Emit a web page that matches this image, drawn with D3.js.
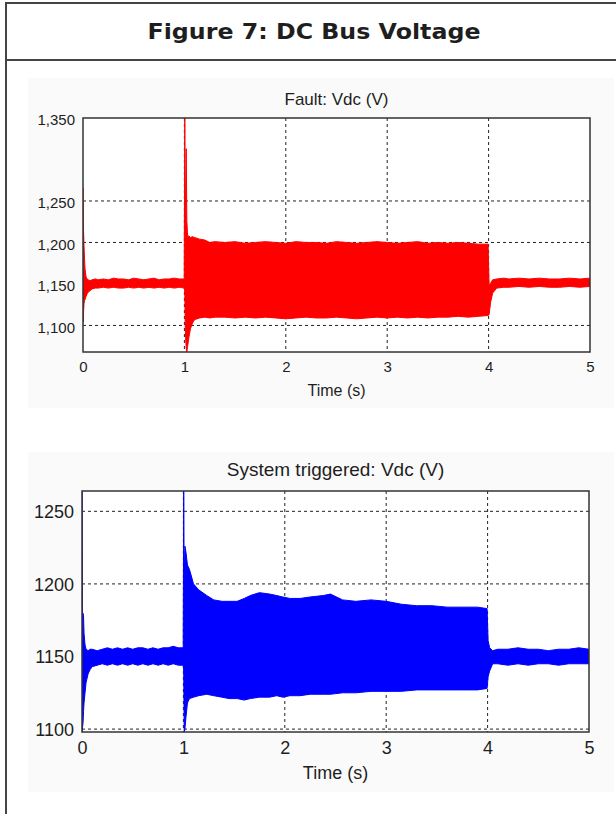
<!DOCTYPE html>
<html>
<head>
<meta charset="utf-8">
<title>Figure 7: DC Bus Voltage</title>
<script src="https://d3js.org/d3.v7.min.js"></script>
<style>
  body { margin: 0; background: #fff; }
  svg text { font-family: "Liberation Sans", Arial, sans-serif; fill: #1e1e1e; }
  .fig-title { font-family: "DejaVu Sans", Verdana, sans-serif !important; font-weight: bold; }
</style>
</head>
<body>
<div id="chart"></div>
<script>
// ---- data (envelope of the Vdc waveform) ----
const xTicks = [0, 1, 2, 3, 4, 5];

const faultTicks = [1100, 1150, 1200, 1250, 1350];
const faultTime = [0, 0.003, 0.006, 0.01, 0.015, 0.02, 0.03, 0.04, 0.05, 0.07, 0.09, 0.12, 0.15, 0.2, 0.25, 0.3, 0.35, 0.4, 0.45, 0.5, 0.55, 0.6, 0.65, 0.7, 0.75, 0.8, 0.85, 0.9, 0.95, 0.998,
  1.004, 1.008, 1.012, 1.018, 1.024, 1.032, 1.045, 1.06, 1.08, 1.1, 1.15, 1.2, 1.25, 1.3,
  1.4, 1.5, 1.6, 1.7, 1.8, 1.9, 2.0, 2.1, 2.2, 2.3, 2.4, 2.5, 2.6, 2.7, 2.8, 2.9, 3.0, 3.1, 3.2, 3.3, 3.4, 3.5, 3.6, 3.7, 3.8, 3.9, 3.995,
  4.005, 4.02, 4.04, 4.08, 4.15, 4.2, 4.3, 4.4, 4.5, 4.6, 4.7, 4.8, 4.9, 5];
const faultUpper = [1266, 1214, 1212, 1196, 1180, 1168, 1159, 1156, 1155, 1154, 1155, 1156, 1155, 1156, 1155, 1157, 1156, 1156, 1155, 1157, 1156, 1155, 1156, 1157, 1155, 1156, 1156, 1157, 1156, 1156,
  1350, 1236, 1250, 1313, 1226, 1207, 1208, 1206, 1207, 1206, 1204, 1203, 1200, 1201,
  1200, 1201, 1199, 1200, 1201, 1200, 1199, 1201, 1200, 1200, 1199, 1201, 1200, 1199, 1200, 1201, 1200, 1199, 1200, 1201, 1199, 1200, 1199, 1200, 1199, 1198, 1198,
  1148, 1151, 1155, 1156, 1157, 1156, 1157, 1156, 1157, 1156, 1156, 1157, 1156, 1157];
const faultLower = [1105, 1104, 1118, 1126, 1130, 1131, 1135, 1138, 1140, 1142, 1144, 1145, 1145, 1146, 1145, 1146, 1145, 1145, 1146, 1145, 1146, 1145, 1146, 1145, 1146, 1145, 1146, 1145, 1146, 1145,
  1140, 1100, 1085, 1072, 1068, 1075, 1086, 1096, 1103, 1107, 1109, 1110, 1109, 1110,
  1110, 1109, 1110, 1109, 1110, 1109, 1108, 1109, 1110, 1109, 1109, 1110, 1109, 1108, 1109, 1110, 1109, 1110, 1109, 1110, 1109, 1110, 1110, 1111, 1110, 1111, 1112,
  1113, 1128, 1139, 1145, 1146, 1146, 1147, 1146, 1147, 1146, 1146, 1147, 1146, 1147];

const trigTicks = [1100, 1150, 1200, 1250];
const trigTime = [0, 0.003, 0.01, 0.015, 0.02, 0.03, 0.04, 0.06, 0.08, 0.1, 0.15, 0.2, 0.25, 0.3, 0.35, 0.4, 0.45, 0.5, 0.55, 0.6, 0.65, 0.7, 0.75, 0.8, 0.85, 0.9, 0.95, 0.998,
  1.003, 1.008, 1.015, 1.025, 1.04, 1.06, 1.1, 1.15, 1.23, 1.3, 1.38, 1.45, 1.53, 1.6, 1.66, 1.75, 1.85, 1.92, 1.98, 2.05, 2.15, 2.25, 2.38, 2.45, 2.57, 2.7, 2.85, 3.0, 3.15, 3.3, 3.45, 3.6, 3.75, 3.9, 3.995,
  4.005, 4.02, 4.05, 4.1, 4.2, 4.3, 4.4, 4.5, 4.6, 4.7, 4.8, 4.9, 5];
const trigUpper = [1264, 1180, 1180, 1178, 1166, 1158, 1155, 1154, 1155, 1155, 1154, 1155, 1156, 1155, 1156, 1155, 1156, 1155, 1156, 1156, 1155, 1156, 1155, 1156, 1156, 1157, 1156, 1156,
  1264, 1200, 1226, 1222, 1213, 1210, 1200, 1196, 1192, 1189, 1188, 1188, 1188, 1190, 1192, 1194, 1193, 1192, 1191, 1190, 1190, 1191, 1192, 1193, 1189, 1188, 1189, 1188, 1186, 1185, 1185, 1184, 1184, 1184, 1183,
  1161, 1156, 1154, 1155, 1155, 1156, 1155, 1155, 1154, 1155, 1155, 1156, 1155];
const trigLower = [1098, 1100, 1104, 1112, 1118, 1125, 1132, 1138, 1141, 1143, 1144, 1145, 1144, 1145, 1144, 1145, 1144, 1145, 1144, 1145, 1144, 1145, 1144, 1145, 1144, 1145, 1144, 1144,
  1140, 1098, 1100, 1108, 1118, 1121, 1122, 1123, 1124, 1123, 1122, 1121, 1121, 1120, 1121, 1122, 1122, 1123, 1122, 1123, 1123, 1124, 1124, 1124, 1125, 1125, 1126, 1126, 1126, 1127, 1127, 1127, 1127, 1127, 1128,
  1136, 1140, 1145, 1145, 1144, 1145, 1144, 1145, 1145, 1144, 1145, 1145, 1145];

// ---- page ----
const W = 616, H = 814;
const svg = d3.select("#chart").append("svg")
  .attr("width", W).attr("height", H);

svg.append("rect").attr("width", W).attr("height", H).attr("fill", "#fff");

// panel backgrounds (pasted screenshot look)
svg.append("rect").attr("x", 28).attr("y", 78).attr("width", 586).attr("height", 330).attr("fill", "#fafafa");
svg.append("rect").attr("x", 28).attr("y", 452).attr("width", 586).attr("height", 340).attr("fill", "#fafafa");

// frame of the figure box
svg.append("line").attr("x1", 5).attr("x2", W).attr("y1", 3).attr("y2", 3).attr("stroke", "#444").attr("stroke-width", 2);
svg.append("line").attr("x1", 6).attr("x2", 6).attr("y1", 2).attr("y2", H).attr("stroke", "#444").attr("stroke-width", 2);
svg.append("line").attr("x1", 5).attr("x2", W).attr("y1", 60).attr("y2", 60).attr("stroke", "#444").attr("stroke-width", 2);

svg.append("text").attr("class", "fig-title")
  .attr("x", 314).attr("y", 39)
  .attr("text-anchor", "middle")
  .attr("textLength", 333).attr("lengthAdjust", "spacingAndGlyphs")
  .style("font-size", "21px")
  .text("Figure 7: DC Bus Voltage");

function panel(o) {
  const x = d3.scaleLinear().domain([0, 5]).range([o.left, o.right]);
  const y = d3.scaleLinear().domain(o.yDomain).range([o.bottom, o.top]);
  const g = svg.append("g");

  g.append("rect").attr("x", o.left).attr("y", o.top)
    .attr("width", o.right - o.left).attr("height", o.bottom - o.top)
    .attr("fill", "#fff");

  // grid
  g.selectAll(".hgrid").data(o.yTicks.filter(v => v > o.yDomain[0] && v < o.yDomain[1]))
    .enter().append("line")
    .attr("x1", o.left).attr("x2", o.right)
    .attr("y1", d => y(d)).attr("y2", d => y(d))
    .attr("stroke", "#222").attr("stroke-width", 1).attr("stroke-dasharray", "3,3");
  g.selectAll(".vgrid").data(xTicks.filter(v => v > 0 && v < 5))
    .enter().append("line")
    .attr("x1", d => x(d)).attr("x2", d => x(d))
    .attr("y1", o.top).attr("y2", o.bottom)
    .attr("stroke", "#222").attr("stroke-width", 1).attr("stroke-dasharray", "3,3");

  // waveform envelope
  const pts = o.time.map((t, i) => ({ t: t, hi: o.upper[i], lo: o.lower[i] }));
  const clipId = "clip" + o.id;
  svg.append("clipPath").attr("id", clipId).append("rect")
    .attr("x", o.left).attr("y", o.top).attr("width", o.right - o.left).attr("height", o.bottom - o.top);
  const area = d3.area().x(d => x(d.t)).y0(d => y(d.lo)).y1(d => y(d.hi));
  g.append("path").datum(pts)
    .attr("clip-path", "url(#" + clipId + ")")
    .attr("d", area)
    .attr("fill", o.color).attr("stroke", o.color).attr("stroke-width", 1);

  // frame
  g.append("rect").attr("x", o.left).attr("y", o.top)
    .attr("width", o.right - o.left).attr("height", o.bottom - o.top)
    .attr("fill", "none").attr("stroke", "#333").attr("stroke-width", 1.5);

  // axes
  const ya = g.append("g").attr("transform", "translate(" + o.left + ",0)")
    .call(d3.axisLeft(y).tickValues(o.yTicks).tickFormat(o.fmt).tickSize(0).tickPadding(8));
  ya.select(".domain").remove();
  ya.selectAll("text").style("font-size", o.tickSize + "px").attr("fill", "#1e1e1e").attr("dy", o.yDy);

  const xa = g.append("g").attr("transform", "translate(0," + o.bottom + ")")
    .call(d3.axisBottom(x).tickValues(xTicks).tickFormat(d3.format("d")).tickSize(0).tickPadding(o.xPad));
  xa.select(".domain").remove();
  xa.selectAll("text").style("font-size", o.tickSize + "px").attr("fill", "#1e1e1e");

  g.append("text").attr("x", (o.left + o.right) / 2).attr("y", o.titleY)
    .attr("text-anchor", "middle").style("font-size", o.titleSize + "px")
    .text(o.title);
  g.append("text").attr("x", (o.left + o.right) / 2).attr("y", o.xLabelY)
    .attr("text-anchor", "middle").style("font-size", o.labelSize + "px")
    .text("Time (s)");
}

panel({
  id: 1, left: 83, right: 590, top: 118, bottom: 352,
  yDomain: [1068, 1350], yTicks: faultTicks, fmt: d3.format(","),
  time: faultTime, upper: faultUpper, lower: faultLower, color: "#ff0000",
  title: "Fault: Vdc (V)", titleY: 105, titleSize: 17,
  xLabelY: 396, labelSize: 16, tickSize: 15, xPad: 9, yDy: "0.45em"
});

panel({
  id: 2, left: 82, right: 589, top: 491, bottom: 732,
  yDomain: [1098, 1264], yTicks: trigTicks, fmt: d3.format("d"),
  time: trigTime, upper: trigUpper, lower: trigLower, color: "#0000ff",
  title: "System triggered: Vdc (V)", titleY: 476, titleSize: 19,
  xLabelY: 779, labelSize: 18, tickSize: 18, xPad: 9, yDy: "0.35em"
});
</script>
</body>
</html>
